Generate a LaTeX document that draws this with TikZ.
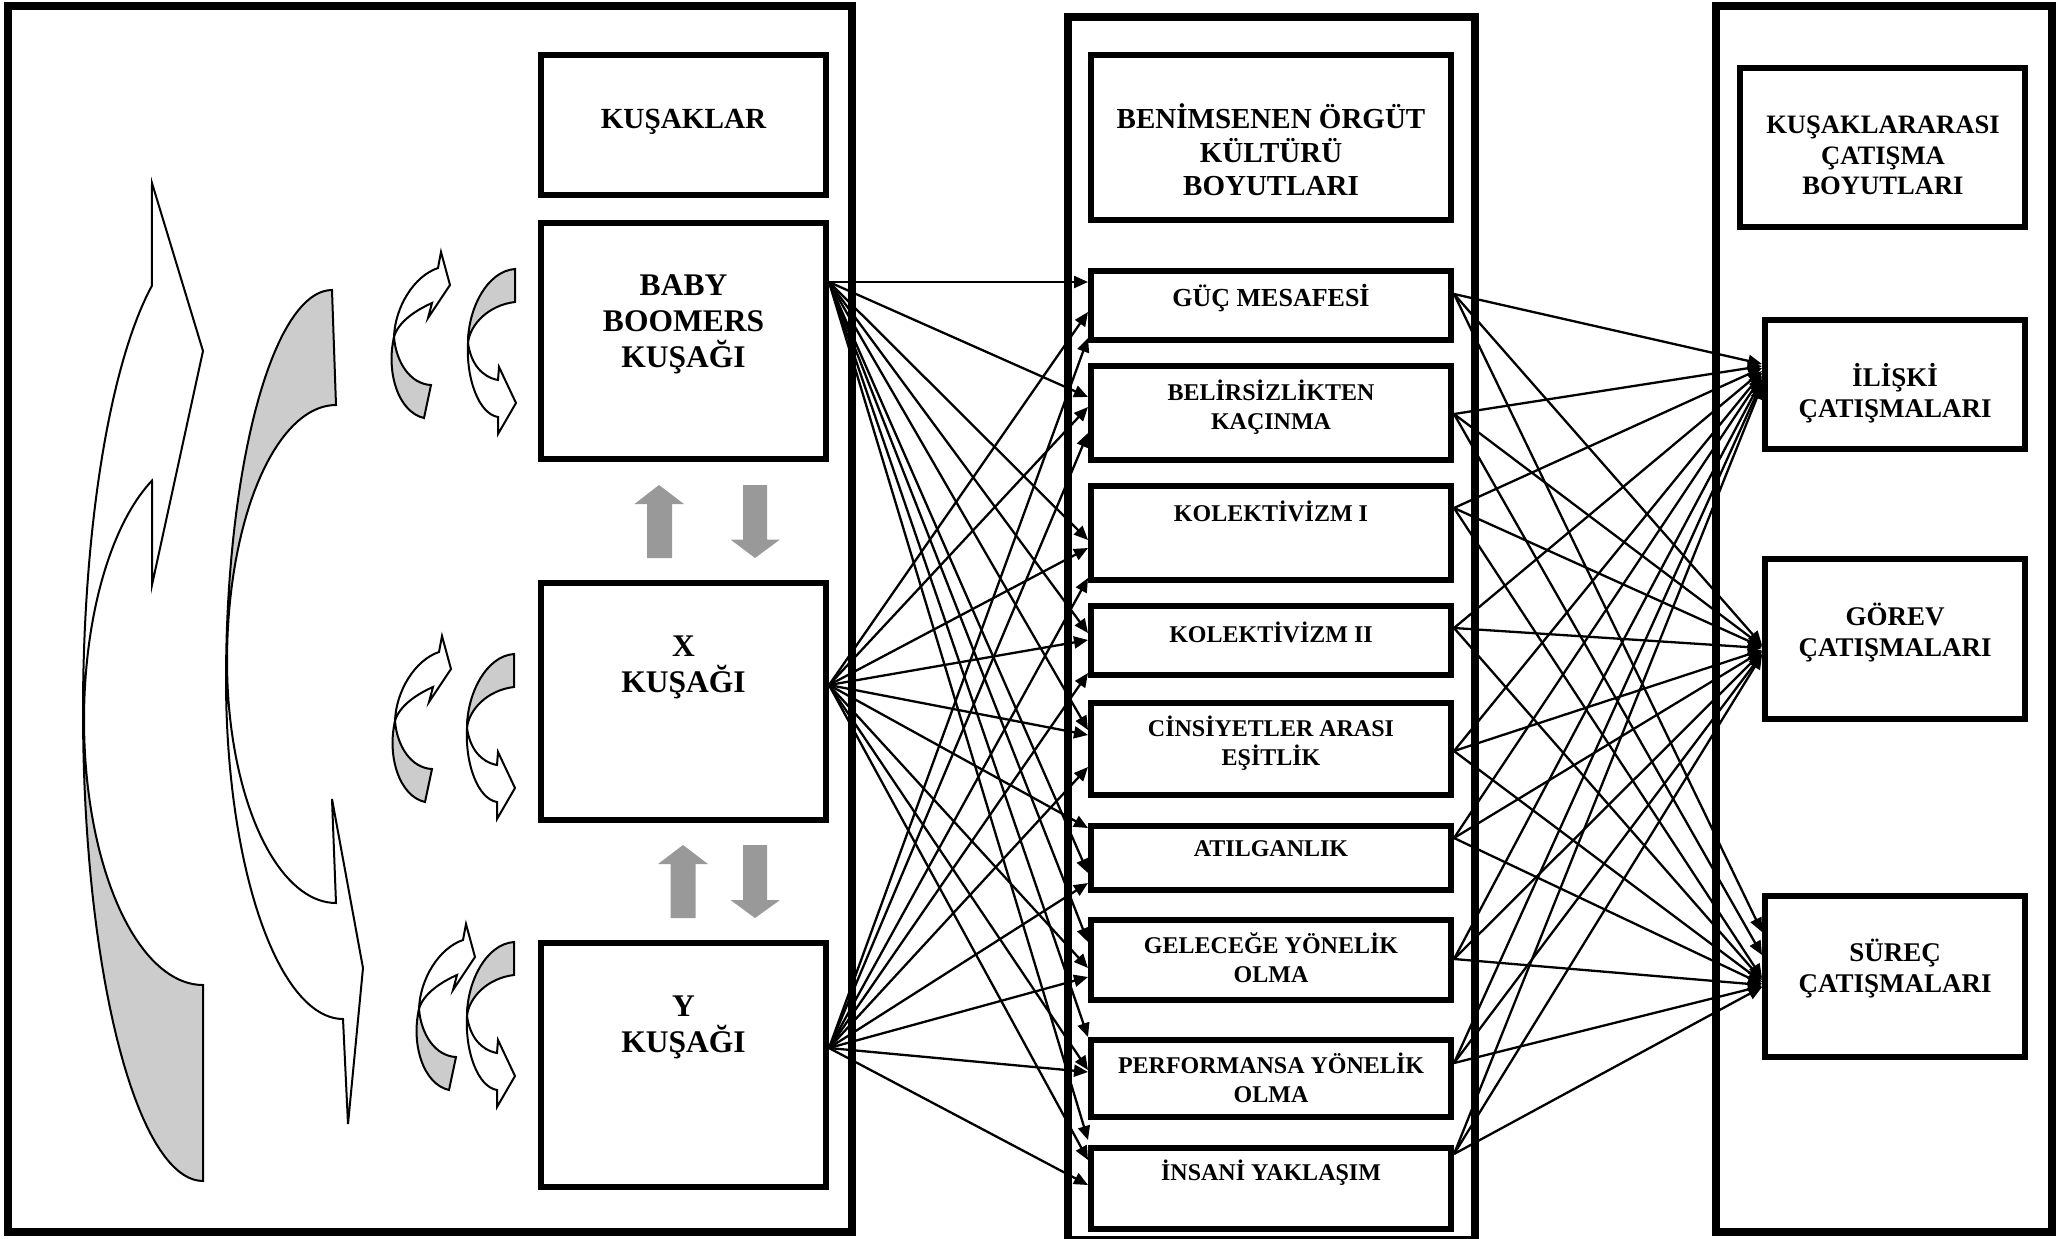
\documentclass[tikz,border=0pt]{standalone}
\usepackage{fontspec}
\setmainfont{Liberation Serif}
\usetikzlibrary{arrows.meta}
\begin{document}
\begin{tikzpicture}[x=0.5pt,y=-0.5pt,
  panel/.style={draw, line width=4pt},
  box/.style={draw, line width=3pt, inner sep=0pt},
  txt/.style 2 args={align=center, inner sep=0pt, font=\bfseries\fontsize{#1}{#2}\selectfont},
  link/.style={line width=1.15pt, -{Triangle[length=7pt,width=6pt]}},
  bandfront/.style={draw, line width=1pt, fill=white, line join=miter},
  bandback/.style={draw, line width=1pt, fill=gray!40, line join=miter},
  blockarrow/.style={fill=gray!80},
  pics/curlL/.style={code={
    \draw[bandback] (6,85) .. controls (-2,120) and (10,160) .. (36,166) -- (43,133)
        .. controls (22,132) and (8,110) .. (6,85) -- cycle;
    \draw[bandfront] (50,16) -- (53,0) -- (62,33) -- (40,66) -- (44,51)
        .. controls (28,58) and (10,70) .. (6,85)
        .. controls (7,55) and (26,24) .. (50,16) -- cycle;
  }},
  pics/curlR/.style={code={
    \draw[bandback] (48,0) .. controls (20,2) and (1,40) .. (1,74)
        .. controls (3,55) and (22,36) .. (48,33) -- cycle;
    \draw[bandfront] (1,74) .. controls (-1,110) and (12,145) .. (31,148) -- (31,165)
        -- (49,134) -- (32,98) -- (31,111) .. controls (15,108) and (4,95) .. (1,74) -- cycle;
  }}
]
\useasboundingbox (0,0) rectangle (2067,1238);

% ---------- three panels ----------
\draw[panel] (8,6) rectangle (852,1232);
\draw[panel] (1068,17) rectangle (1475,1240);
\draw[panel] (1716,6) rectangle (2052,1232);

% ---------- large curved arrows ----------
% first arrow: head at the top, back side at the bottom
\draw[bandback] plot[domain=180:90, samples=40] ({203+120*cos(\x)},{711+470*sin(\x)})
  -- plot[domain=90:180, samples=40] ({203+119*cos(\x)},{720+265*sin(\x)}) -- cycle;
\draw[bandfront] (152,183) -- (203,351) -- (152,585) -- (152,481)
  -- plot[domain=244.6:180, samples=40] ({203+119*cos(\x)},{720+265*sin(\x)})
  -- plot[domain=180:244.8, samples=40] ({203+120*cos(\x)},{711+470*sin(\x)}) -- cycle;

% second arrow: back side at the top, head at the bottom
\draw[bandback] plot[domain=270:180, samples=40] ({332+106*cos(\x)},{680+390*sin(\x)})
  -- plot[domain=180:270, samples=40] ({336+109*cos(\x)},{661+256*sin(\x)}) -- cycle;
\draw[bandfront] plot[domain=180:90, samples=40] ({343+117*cos(\x)},{680+339*sin(\x)})
  -- (348,1124) -- (363,968) -- (332,799) -- (336,903)
  -- plot[domain=90:180, samples=40] ({336+109*cos(\x)},{661+242*sin(\x)}) -- cycle;

% ---------- small curved arrows ----------
\pic at (388,252) {curlL};
\pic at (467,269) {curlR};
\pic at (389,636) {curlL};
\pic at (466,654) {curlR};
\pic at (413,924) {curlL};
\pic at (466,942) {curlR};

% ---------- grey block arrows ----------
\fill[blockarrow] (659,485) -- (684,504) -- (672,504) -- (672,558) -- (647,558) -- (647,504) -- (634.5,504) -- cycle;
\fill[blockarrow] (743,485) -- (767,485) -- (767,539.5) -- (780,539.5) -- (755,558) -- (730.5,539.5) -- (743,539.5) -- cycle;
\fill[blockarrow] (683,845) -- (708,864) -- (695.5,864) -- (695.5,918) -- (670.5,918) -- (670.5,864) -- (658,864) -- cycle;
\fill[blockarrow] (743,845) -- (767,845) -- (767,900) -- (780,900) -- (755,918) -- (730.5,900) -- (743,900) -- cycle;

% ---------- generation boxes ----------
\node[box, minimum width=142.5pt, minimum height=70pt]  (kh) at (683.5,125) {};
\node[box, minimum width=142.5pt, minimum height=118pt] (bb) at (683.5,341) {};
\node[box, minimum width=142.5pt, minimum height=118.5pt] (xg) at (683.5,701.5) {};
\node[box, minimum width=142.5pt, minimum height=122pt] (yg) at (683.5,1064.5) {};

% ---------- culture dimension boxes ----------
\node[box, minimum width=180pt, minimum height=82.5pt] (mh) at (1271,137.5) {};
\node[box, minimum width=180pt, minimum height=34.5pt] (m1) at (1271,305.5) {};
\node[box, minimum width=180pt, minimum height=47pt]   (m2) at (1271,413) {};
\node[box, minimum width=180pt, minimum height=47pt]   (m3) at (1271,533) {};
\node[box, minimum width=180pt, minimum height=34.5pt] (m4) at (1271,640.5) {};
\node[box, minimum width=180pt, minimum height=46pt]   (m5) at (1271,749) {};
\node[box, minimum width=180pt, minimum height=32pt]   (m6) at (1271,858) {};
\node[box, minimum width=180pt, minimum height=40pt]   (m7) at (1271,960) {};
\node[box, minimum width=180pt, minimum height=38.5pt] (m8) at (1271,1078.5) {};
\node[box, minimum width=180pt, minimum height=40.5pt] (m9) at (1271,1188.5) {};

% ---------- conflict boxes ----------
\node[box, minimum width=142.5pt, minimum height=79.5pt] (rh) at (1882.5,147.5) {};
\node[box, minimum width=130pt, minimum height=64.5pt] (r1) at (1895,384.5) {};
\node[box, minimum width=130pt, minimum height=80pt]   (r2) at (1895,639) {};
\node[box, minimum width=130pt, minimum height=80.5pt] (r3) at (1895,976) {};

% ---------- generations -> culture dimensions ----------
\foreach \t/\a/\b/\c in {1/282/312/338, 2/397/407/433, 3/540/548/578,
    4/633/640/673, 5/730/735/767, 6/873/828/883, 7/942/968/977,
    8/1037/1070/1072, 9/1140/1160/1185} {
  \draw[link] (bb.east |- 0,282)  -- (m\t.west |- 0,\a);
  \draw[link] (xg.east |- 0,685)  -- (m\t.west |- 0,\b);
  \draw[link] (yg.east |- 0,1048) -- (m\t.west |- 0,\c);
}

% ---------- culture dimensions -> conflict types ----------
\foreach \s/\y/\p/\q/\r in {1/294/364/645/932, 2/414/366/646/955, 3/508/368/647/978,
    4/628/371/648/980, 5/751/373/650/982, 6/838/376/651/984, 7/959/379/652/985,
    8/1063/382/654/986, 9/1154/385/655/987} {
  \draw[link] (m\s.east |- 0,\y) -- (r1.west |- 0,\p);
  \draw[link] (m\s.east |- 0,\y) -- (r2.west |- 0,\q);
  \draw[link] (m\s.east |- 0,\y) -- (r3.west |- 0,\r);
}

% ---------- labels ----------
\node[txt={14.6}{17}]    (kh-t) at (683.5,122)  {KUŞAKLAR};
\node[txt={15.75}{18}]   (bb-t) at (683.5,324)  {BABY\\BOOMERS\\KUŞAĞI};
\node[txt={15.75}{18}]   (xg-t) at (683.5,667)  {X\\KUŞAĞI};
\node[txt={15.75}{18}]   (yg-t) at (683.5,1027) {Y\\KUŞAĞI};

\node[txt={14.5}{16.8}]  (mh-t) at (1271,150)  {BENİMSENEN ÖRGÜT\\KÜLTÜRÜ\\BOYUTLARI};
\node[txt={13}{15}]      (m1-t) at (1271,298)  {GÜÇ MESAFESİ};
\node[txt={12}{14.5}]    (m2-t) at (1271,407)  {BELİRSİZLİKTEN\\KAÇINMA};
\node[txt={12}{14.5}]    (m3-t) at (1271,511)  {KOLEKTİVİZM I};
\node[txt={12}{14.5}]    (m4-t) at (1271,632)  {KOLEKTİVİZM II};
\node[txt={12}{14.5}]    (m5-t) at (1271,743)  {CİNSİYETLER ARASI\\EŞİTLİK};
\node[txt={12}{14.5}]    (m6-t) at (1271,849)  {ATILGANLIK};
\node[txt={12}{14.5}]    (m7-t) at (1271,958)  {GELECEĞE YÖNELİK\\OLMA};
\node[txt={12}{14.5}]    (m8-t) at (1271,1078) {PERFORMANSA YÖNELİK\\OLMA};
\node[txt={12}{14.5}]    (m9-t) at (1271,1173) {İNSANİ YAKLAŞIM};

\node[txt={13.3}{15.3}]  (rh-t) at (1883,155.5) {KUŞAKLARARASI\\ÇATIŞMA\\BOYUTLARI};
\node[txt={13.5}{15.5}]  (r1-t) at (1895,393)  {İLİŞKİ\\ÇATIŞMALARI};
\node[txt={13.5}{15.5}]  (r2-t) at (1895,633)  {GÖREV\\ÇATIŞMALARI};
\node[txt={13.5}{15.5}]  (r3-t) at (1895,969)  {SÜREÇ\\ÇATIŞMALARI};
\end{tikzpicture}
\end{document}
